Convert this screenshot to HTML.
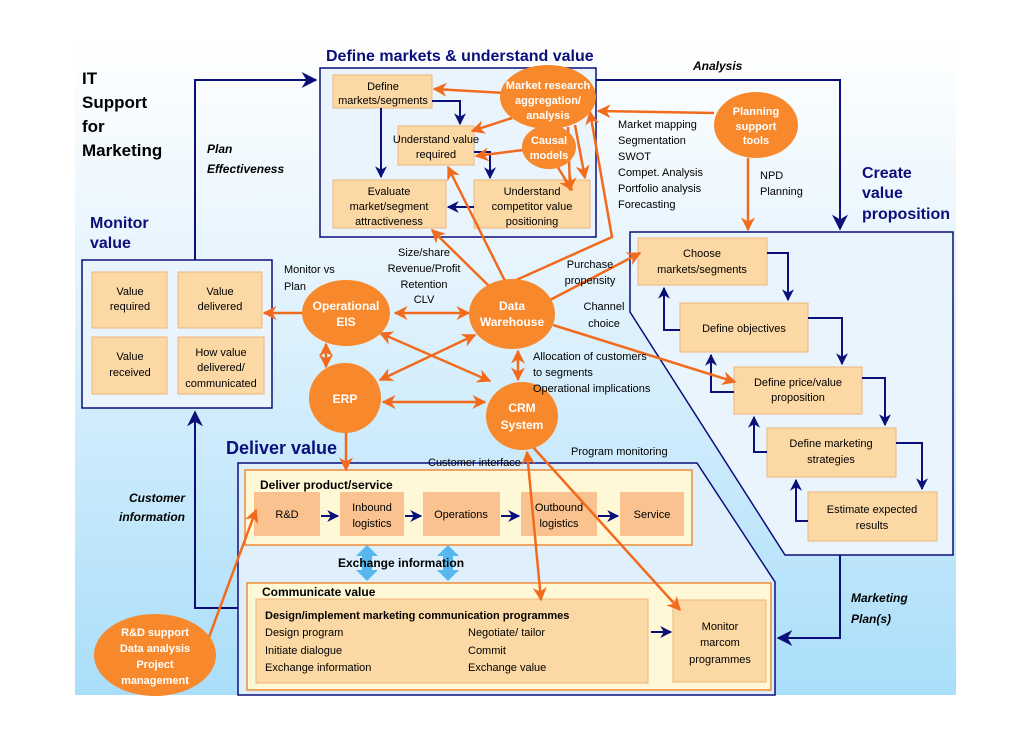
<!DOCTYPE html>
<html><head><meta charset="utf-8"><style>
body{margin:0;background:#fff;}
svg text{font-family:"Liberation Sans",sans-serif;}
</style></head><body>
<svg width="1030" height="728" viewBox="0 0 1030 728" xmlns="http://www.w3.org/2000/svg">
<defs>
<linearGradient id="bg" x1="0" y1="0" x2="0" y2="1">
<stop offset="0" stop-color="#ffffff"/><stop offset="0.35" stop-color="#e6f4fd"/><stop offset="1" stop-color="#a9defa"/>
</linearGradient>
<marker id="n" viewBox="0 0 10 10" refX="9" refY="5" markerWidth="12" markerHeight="12" orient="auto" markerUnits="userSpaceOnUse"><path d="M0,0 L10,5 L0,10 L3,5z" fill="#0b0f7a"/></marker>
<marker id="nb" viewBox="0 0 10 10" refX="9" refY="5" markerWidth="16" markerHeight="16" orient="auto" markerUnits="userSpaceOnUse"><path d="M0,0 L10,5 L0,10 L3,5z" fill="#0b0f7a"/></marker>
<marker id="o" viewBox="0 0 10 10" refX="9" refY="5" markerWidth="14" markerHeight="14" orient="auto-start-reverse" markerUnits="userSpaceOnUse"><path d="M0,0 L10,5 L0,10 L3,5z" fill="#f26b1d"/></marker>
</defs>
<rect x="75" y="35" width="881" height="660" fill="url(#bg)"/>

<text x="82" y="84" font-size="17" font-weight="bold">IT</text>
<text x="82" y="108" font-size="17" font-weight="bold">Support</text>
<text x="82" y="132" font-size="17" font-weight="bold">for</text>
<text x="82" y="156" font-size="17" font-weight="bold">Marketing</text>

<polygon points="630,232 953,232 953,555 785,555 630,312" fill="#e9f4fd" stroke="#0b0f7a" stroke-width="1.5"/>
<polygon points="238,463 697,463 775,582 775,695 238,695" fill="#dff0fc" stroke="#0b0f7a" stroke-width="1.5"/>

<polyline points="195,260 195,80 316,80" fill="none" stroke="#0b0f7a" stroke-width="2" marker-end="url(#nb)"/>
<polyline points="596,80 840,80 840,229" fill="none" stroke="#0b0f7a" stroke-width="2" marker-end="url(#nb)"/>
<polyline points="238,608 195,608 195,412" fill="none" stroke="#0b0f7a" stroke-width="2" marker-end="url(#nb)"/>
<polyline points="840,555 840,638 778,638" fill="none" stroke="#0b0f7a" stroke-width="2" marker-end="url(#nb)"/>
<text x="693" y="70" font-size="12" font-weight="bold" font-style="italic">Analysis</text>
<text x="207" y="153" font-size="12" font-weight="bold" font-style="italic">Plan</text>
<text x="207" y="173" font-size="12" font-weight="bold" font-style="italic">Effectiveness</text>
<text x="185" y="502" font-size="12" font-weight="bold" font-style="italic" text-anchor="end">Customer</text>
<text x="185" y="521" font-size="12" font-weight="bold" font-style="italic" text-anchor="end">information</text>
<text x="851" y="602" font-size="12" font-weight="bold" font-style="italic">Marketing</text>
<text x="851" y="623" font-size="12" font-weight="bold" font-style="italic">Plan(s)</text>

<text x="326" y="61" font-size="16" font-weight="bold" fill="#0b0f7a">Define markets &amp; understand value</text>
<rect x="320" y="68" width="276" height="169" fill="#eaf4fd" stroke="#0b0f7a" stroke-width="1.5"/>
<g fill="#fcd9a4" stroke="#efb57a">
<rect x="333" y="75" width="99" height="33"/>
<rect x="398" y="126" width="76" height="39"/>
<rect x="333" y="180" width="113" height="48"/>
<rect x="474" y="180" width="116" height="48"/>
</g>
<g font-size="11" text-anchor="middle">
<text x="383" y="90">Define</text><text x="383" y="104">markets/segments</text>
<text x="436" y="143">Understand value</text><text x="436" y="158">required</text>
<text x="389" y="195">Evaluate</text><text x="389" y="210">market/segment</text><text x="389" y="225">attractiveness</text>
<text x="532" y="195">Understand</text><text x="532" y="210">competitor value</text><text x="532" y="225">positioning</text>
</g>
<g fill="none" stroke="#0b0f7a" stroke-width="2">
<polyline points="432,101 460,101 460,124" marker-end="url(#n)"/>
<polyline points="381,108 381,177" marker-end="url(#n)"/>
<polyline points="474,152 490,152 490,178" marker-end="url(#n)"/>
<polyline points="474,207 448,207" marker-end="url(#n)"/>
</g>

<text x="90" y="228" font-size="16" font-weight="bold" fill="#0b0f7a">Monitor</text>
<text x="90" y="248" font-size="16" font-weight="bold" fill="#0b0f7a">value</text>
<rect x="82" y="260" width="190" height="148" fill="#eaf4fd" stroke="#0b0f7a" stroke-width="1.5"/>
<g fill="#fcd9a4" stroke="#efb57a">
<rect x="92" y="272" width="75" height="56"/><rect x="178" y="272" width="84" height="56"/>
<rect x="92" y="337" width="75" height="57"/><rect x="178" y="337" width="86" height="57"/>
</g>
<g font-size="11" text-anchor="middle">
<text x="130" y="295">Value</text><text x="130" y="310">required</text>
<text x="220" y="295">Value</text><text x="220" y="310">delivered</text>
<text x="130" y="360">Value</text><text x="130" y="376">received</text>
<text x="221" y="356">How value</text><text x="221" y="371">delivered/</text><text x="221" y="387">communicated</text>
</g>

<text x="862" y="178" font-size="16" font-weight="bold" fill="#0b0f7a">Create</text>
<text x="862" y="198" font-size="16" font-weight="bold" fill="#0b0f7a">value</text>
<text x="862" y="219" font-size="16" font-weight="bold" fill="#0b0f7a">proposition</text>
<g fill="#fcd9a4" stroke="#efb57a">
<rect x="638" y="238" width="129" height="47"/>
<rect x="680" y="303" width="128" height="49"/>
<rect x="734" y="367" width="128" height="47"/>
<rect x="767" y="428" width="129" height="49"/>
<rect x="808" y="492" width="129" height="49"/>
</g>
<g font-size="11" text-anchor="middle">
<text x="702" y="257">Choose</text><text x="702" y="273">markets/segments</text>
<text x="744" y="332">Define objectives</text>
<text x="798" y="386">Define price/value</text><text x="798" y="401">proposition</text>
<text x="831" y="447">Define marketing</text><text x="831" y="463">strategies</text>
<text x="872" y="513">Estimate expected</text><text x="872" y="529">results</text>
</g>
<g fill="none" stroke="#0b0f7a" stroke-width="2">
<polyline points="767,253 788,253 788,300" marker-end="url(#n)"/>
<polyline points="808,318 842,318 842,364" marker-end="url(#n)"/>
<polyline points="862,378 885,378 885,425" marker-end="url(#n)"/>
<polyline points="896,443 922,443 922,489" marker-end="url(#n)"/>
<polyline points="680,330 664,330 664,288" marker-end="url(#n)"/>
<polyline points="734,392 711,392 711,355" marker-end="url(#n)"/>
<polyline points="767,452 754,452 754,417" marker-end="url(#n)"/>
<polyline points="808,521 796,521 796,480" marker-end="url(#n)"/>
</g>

<text x="226" y="454" font-size="18" font-weight="bold" fill="#0b0f7a">Deliver value</text>
<rect x="245" y="470" width="447" height="75" fill="#fff8d6" stroke="#ee8a3a" stroke-width="1.5"/>
<text x="260" y="489" font-size="12" font-weight="bold">Deliver product/service</text>
<g fill="#f9c28f">
<rect x="254" y="492" width="66" height="44"/><rect x="340" y="492" width="64" height="44"/>
<rect x="423" y="492" width="77" height="44"/><rect x="521" y="492" width="76" height="44"/>
<rect x="620" y="492" width="64" height="44"/>
</g>
<g font-size="11" text-anchor="middle">
<text x="287" y="518">R&amp;D</text>
<text x="372" y="511">Inbound</text><text x="372" y="527">logistics</text>
<text x="461" y="518">Operations</text>
<text x="559" y="511">Outbound</text><text x="559" y="527">logistics</text>
<text x="652" y="518">Service</text>
</g>
<g fill="none" stroke="#0b0f7a" stroke-width="2">
<line x1="321" y1="516" x2="338" y2="516" marker-end="url(#n)"/>
<line x1="405" y1="516" x2="421" y2="516" marker-end="url(#n)"/>
<line x1="501" y1="516" x2="519" y2="516" marker-end="url(#n)"/>
<line x1="598" y1="516" x2="618" y2="516" marker-end="url(#n)"/>
</g>
<g fill="#56b8ef">
<polygon points="367,545 378,556 372,556 372,570 378,570 367,581 356,570 362,570 362,556 356,556"/>
<polygon points="448,545 459,556 453,556 453,570 459,570 448,581 437,570 443,570 443,556 437,556"/>
</g>
<text x="338" y="567" font-size="12" font-weight="bold">Exchange  information</text>
<rect x="247" y="583" width="524" height="107" fill="#fff8d6" stroke="#ee8a3a" stroke-width="1.5"/>
<text x="262" y="596" font-size="12" font-weight="bold">Communicate value</text>
<rect x="256" y="599" width="392" height="84" fill="#fcd9a4" stroke="#efb57a"/>
<rect x="673" y="600" width="93" height="82" fill="#fcd9a4" stroke="#efb57a"/>
<text x="265" y="619" font-size="11" font-weight="bold">Design/implement marketing communication programmes</text>
<g font-size="11">
<text x="265" y="636">Design program</text><text x="265" y="654">Initiate dialogue</text><text x="265" y="671">Exchange information</text>
<text x="468" y="636">Negotiate/ tailor</text><text x="468" y="654">Commit</text><text x="468" y="671">Exchange value</text>
</g>
<g font-size="11" text-anchor="middle"><text x="720" y="630">Monitor</text><text x="720" y="646">marcom</text><text x="720" y="663">programmes</text></g>
<line x1="651" y1="632" x2="671" y2="632" stroke="#0b0f7a" stroke-width="2" marker-end="url(#n)"/>

<g fill="none" stroke="#f26b1d" stroke-width="2.5">
<line x1="505" y1="93" x2="434" y2="89" marker-end="url(#o)"/>
<line x1="512" y1="118" x2="472" y2="131" marker-end="url(#o)"/>
<line x1="575" y1="125" x2="585" y2="178" marker-end="url(#o)"/>
<line x1="568" y1="127" x2="570" y2="190" marker-end="url(#o)"/>
<line x1="523" y1="150" x2="476" y2="156" marker-end="url(#o)"/>
<line x1="557" y1="166" x2="572" y2="190" marker-end="url(#o)"/>
<line x1="714" y1="113" x2="598" y2="111" marker-end="url(#o)"/>
<line x1="748" y1="158" x2="748" y2="230" marker-end="url(#o)"/>
<line x1="505" y1="281" x2="448" y2="167" marker-end="url(#o)"/>
<line x1="490" y1="287" x2="432" y2="230" marker-end="url(#o)"/>
<polyline points="514,281 612,237 590,112" marker-end="url(#o)"/>
<line x1="550" y1="300" x2="640" y2="253" marker-end="url(#o)"/>
<line x1="553" y1="325" x2="735" y2="382" marker-end="url(#o)"/>
<line x1="395" y1="313" x2="469" y2="313" marker-start="url(#o)" marker-end="url(#o)"/>
<line x1="302" y1="313" x2="264" y2="313" marker-end="url(#o)"/>
<line x1="326" y1="344" x2="326" y2="367" marker-start="url(#o)" marker-end="url(#o)"/>
<line x1="475" y1="335" x2="380" y2="380" marker-start="url(#o)" marker-end="url(#o)"/>
<line x1="380" y1="333" x2="490" y2="381" marker-start="url(#o)" marker-end="url(#o)"/>
<line x1="383" y1="402" x2="485" y2="402" marker-start="url(#o)" marker-end="url(#o)"/>
<line x1="518" y1="351" x2="518" y2="380" marker-start="url(#o)" marker-end="url(#o)"/>
<line x1="346" y1="432" x2="346" y2="470" marker-end="url(#o)"/>
<line x1="527" y1="452" x2="541" y2="600" marker-start="url(#o)" marker-end="url(#o)"/>
<line x1="532" y1="446" x2="680" y2="610" marker-end="url(#o)"/>
<line x1="205" y1="648" x2="256" y2="510" marker-end="url(#o)"/>
</g>

<g fill="#f7892c">
<ellipse cx="548" cy="97" rx="48" ry="32"/>
<ellipse cx="549" cy="147" rx="27" ry="22"/>
<ellipse cx="756" cy="125" rx="42" ry="33"/>
<ellipse cx="346" cy="313" rx="44" ry="33"/>
<ellipse cx="512" cy="314" rx="43" ry="35"/>
<ellipse cx="345" cy="398" rx="36" ry="35"/>
<ellipse cx="522" cy="416" rx="36" ry="34"/>
<ellipse cx="155" cy="655" rx="61" ry="41"/>
</g>
<g fill="#fff" font-weight="bold" text-anchor="middle">
<text x="548" y="89" font-size="11">Market research</text><text x="548" y="104" font-size="11">aggregation/</text><text x="548" y="119" font-size="11">analysis</text>
<text x="549" y="144" font-size="11">Causal</text><text x="549" y="159" font-size="11">models</text>
<text x="756" y="115" font-size="11">Planning</text><text x="756" y="130" font-size="11">support</text><text x="756" y="144" font-size="11">tools</text>
<text x="346" y="310" font-size="12">Operational</text><text x="346" y="326" font-size="12">EIS</text>
<text x="512" y="310" font-size="12">Data</text><text x="512" y="326" font-size="12">Warehouse</text>
<text x="345" y="403" font-size="12">ERP</text>
<text x="522" y="412" font-size="12">CRM</text><text x="522" y="429" font-size="12">System</text>
<text x="155" y="636" font-size="11">R&amp;D support</text><text x="155" y="652" font-size="11">Data analysis</text><text x="155" y="668" font-size="11">Project</text><text x="155" y="684" font-size="11">management</text>
</g>

<g font-size="11">
<text x="618" y="128">Market mapping</text><text x="618" y="144">Segmentation</text><text x="618" y="160">SWOT</text>
<text x="618" y="176">Compet. Analysis</text><text x="618" y="192">Portfolio analysis</text><text x="618" y="208">Forecasting</text>
<text x="760" y="179">NPD</text><text x="760" y="195">Planning</text>
<text x="284" y="273">Monitor vs</text><text x="284" y="290">Plan</text>
<text x="533" y="360">Allocation of customers</text><text x="533" y="376">to segments</text><text x="533" y="392">Operational implications</text>
<text x="571" y="455">Program monitoring</text>
<text x="428" y="466">Customer interface</text>
</g>
<g font-size="11" text-anchor="middle">
<text x="424" y="256">Size/share</text><text x="424" y="272">Revenue/Profit</text><text x="424" y="288">Retention</text><text x="424" y="303">CLV</text>
<text x="590" y="268">Purchase</text><text x="590" y="284">propensity</text>
<text x="604" y="310">Channel</text><text x="604" y="327">choice</text>
</g>
</svg>
</body></html>
